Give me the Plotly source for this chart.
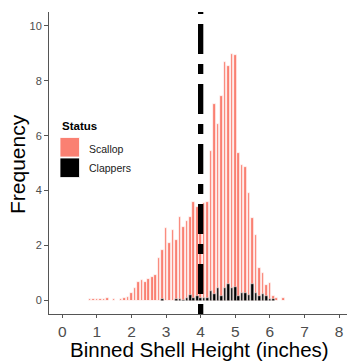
import plotly.graph_objects as go

# Bin centres (inches)
bins = [0.8, 0.9, 1.0, 1.1, 1.2, 1.3, 1.4, 1.5, 1.6, 1.7, 1.8, 1.9,
        2.0, 2.1, 2.2, 2.3, 2.4, 2.5, 2.6, 2.7, 2.8, 2.9,
        3.0, 3.1, 3.2, 3.3, 3.4, 3.5, 3.6, 3.7, 3.8, 3.9,
        4.0, 4.1, 4.2, 4.3, 4.4, 4.5, 4.6, 4.7, 4.8, 4.9,
        5.0, 5.1, 5.2, 5.3, 5.4, 5.5, 5.6, 5.7, 5.8, 5.9,
        6.0, 6.1, 6.2, 6.3, 6.4]

scallop = [0.05, 0.05, 0.04, 0.05, 0.04, 0.11, 0.0, 0.06, 0.0, 0.07, 0.08, 0.13,
           0.27, 0.45, 0.66, 0.73, 0.66, 0.80, 0.87, 0.92, 1.55, 1.85,
           2.64, 2.09, 2.58, 2.20, 3.04, 2.68, 2.91, 3.04, 3.60, 3.40,
           3.40, 3.55, 3.60, 5.45, 7.14, 6.43, 7.43, 8.69, 8.52, 8.98,
           8.92, 5.37, 4.93, 4.87, 3.90, 3.00, 2.40, 1.20, 1.02, 0.57,
           0.63, 0.15, 0.09, 0.0, 0.08]

clappers = [0, 0, 0, 0, 0, 0, 0, 0, 0, 0, 0, 0,
            0, 0, 0, 0, 0, 0, 0, 0, 0, 0.05,
            0, 0, 0, 0.07, 0.06, 0.03, 0.08, 0.20, 0.08, 0.18,
            0.10, 0.10, 0.08, 0.33, 0.24, 0.44, 0.17, 0.46, 0.61, 0.44,
            0.51, 0.17, 0.27, 0.27, 0.20, 0.61, 0.28, 0.15, 0.24, 0.15,
            0.07, 0.04, 0, 0, 0]

x_ticks = [0, 1, 2, 3, 4, 5, 6, 7, 8]
y_ticks = [0, 2, 4, 6, 8, 10]
cutoff = 4

SALMON = "#FA8072"
FONT = "Liberation Sans, Arial, sans-serif"
GREY = "#4D4D4D"

fig = go.Figure()
fig.add_trace(go.Bar(x=bins, y=scallop, width=0.075, name="Scallop",
                     marker=dict(color=SALMON, line=dict(color="white", width=0.7))))
fig.add_trace(go.Bar(x=bins, y=clappers, width=0.075, name="Clappers",
                     marker=dict(color="black", line=dict(color="white", width=0.5))))

# plot area in pixels: x 49..347, y 12..314
L, R, T, B = 49, 347, 12, 314
W, H = R - L, B - T
def px(x):
    return (x - L) / W
def py(y):
    return (B - y) / H

fig.add_shape(type="line", xref="x", yref="paper", x0=cutoff, x1=cutoff, y0=0, y1=1,
              line=dict(color="black", width=5.3, dash="10px,10px,30px,10px"))

# legend (manual)
fig.add_shape(type="rect", xref="paper", yref="paper", x0=px(60), x1=px(79.5),
              y0=py(157), y1=py(137.5), fillcolor=SALMON, line=dict(color="white", width=0.8))
fig.add_shape(type="rect", xref="paper", yref="paper", x0=px(60), x1=px(79.5),
              y0=py(177.5), y1=py(158), fillcolor="black", line=dict(color="white", width=0.8))

annos = [
    dict(text="<b>Status</b>", x=px(59.5), y=py(126), xanchor="left", yanchor="middle",
         font=dict(size=11.5, color="black", family=FONT)),
    dict(text="Scallop", x=px(86.5), y=py(148.5), xanchor="left", yanchor="middle",
         font=dict(size=10.5, color="#1a1a1a", family=FONT)),
    dict(text="Clappers", x=px(86.5), y=py(168.5), xanchor="left", yanchor="middle",
         font=dict(size=10.5, color="#1a1a1a", family=FONT)),
    dict(text="Binned Shell Height (inches)", x=px(199), y=py(349.5), xanchor="center",
         yanchor="middle", font=dict(size=20.5, color="black", family=FONT)),
    dict(text="Frequency", x=px(17), y=py(164), xanchor="center", yanchor="middle",
         textangle=-90, font=dict(size=21, color="black", family=FONT)),
]
for a in annos:
    a.update(xref="paper", yref="paper", showarrow=False)
    fig.add_annotation(**a)

fig.update_layout(
    width=348, height=362,
    margin=dict(l=L, r=348 - R, t=T, b=362 - B, pad=0),
    barmode="overlay", bargap=0,
    showlegend=False,
    plot_bgcolor="white", paper_bgcolor="white",
    font=dict(family=FONT),
)
fig.update_xaxes(range=[-0.384, 8.23], tickvals=x_ticks, ticktext=[str(v) for v in x_ticks],
                 showgrid=False, zeroline=False, showline=True, linecolor="#555555", linewidth=1,
                 ticks="outside", ticklen=3, tickcolor="#555555",
                 tickfont=dict(size=15.5, color=GREY, family=FONT))
fig.update_yaxes(range=[-0.49, 10.5], tickvals=y_ticks, ticktext=[str(v) for v in y_ticks],
                 showgrid=False, zeroline=False, showline=True, linecolor="#555555", linewidth=1,
                 ticks="outside", ticklen=4, tickcolor="#555555",
                 tickfont=dict(size=11, color=GREY, family=FONT))

fig.write_html("out.html")
